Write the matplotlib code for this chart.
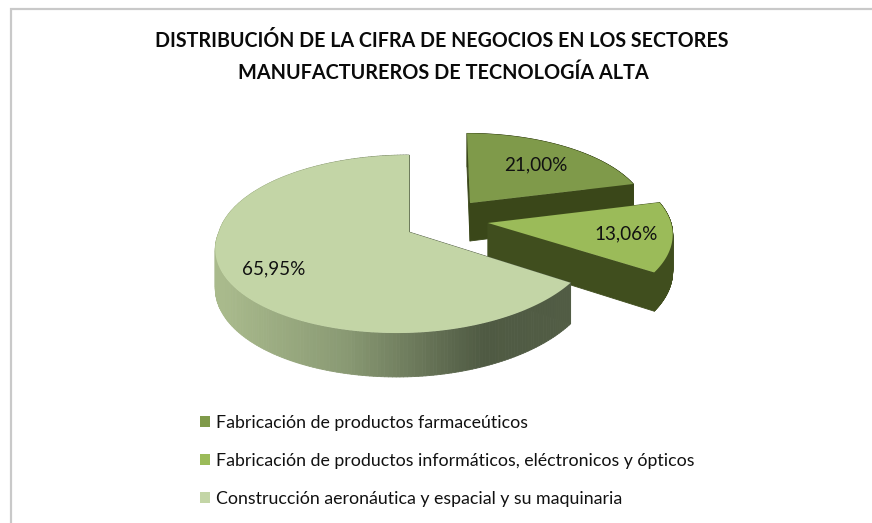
import numpy as np
import matplotlib
matplotlib.use("Agg")
import matplotlib.pyplot as plt
from matplotlib.collections import PolyCollection
from matplotlib.colors import LinearSegmentedColormap
from matplotlib.patches import Patch

title_lines = ["DISTRIBUCIÓN DE LA CIFRA DE NEGOCIOS EN LOS SECTORES",
               "MANUFACTUREROS DE TECNOLOGÍA ALTA"]
categories = ["Fabricación de productos farmaceúticos",
              "Fabricación de productos informáticos, eléctronicos y ópticos",
              "Construcción aeronáutica y espacial y su maquinaria"]
shares = [21.00, 13.06, 65.95]
share_labels = ["21,00%", "13,06%", "65,95%"]
top_colors = ["#7F9A4A", "#9BBB59", "#C3D5A6"]
side_colors = ["#3A4719", "#404E1E", None]

plt.rcParams["font.family"] = ["Lato", "DejaVu Sans"]
W, H = 872, 523
fig = plt.figure(figsize=(W / 100, H / 100), dpi=100)
ax = fig.add_axes([0, 0, 1, 1])
ax.set_xlim(0, W)
ax.set_ylim(H, 0)
ax.axis("off")

# frame of the chart area
ax.plot([10.5, 10.5, W], [H, 8.5, 8.5], color="#C9C9C9", lw=1.6, solid_joinstyle="miter")

K = 0.135  # perspective foreshortening


def project(t, geo):
    """t: clockwise angle from 12 o'clock; returns screen x, y of the rim."""
    u, v = np.sin(t), np.cos(t)
    d = 1 + K * v
    rx = np.where(u < 0, geo["rxl"], geo["rxr"])
    x = (geo["cx"] + rx * u / d + geo["lean"] * np.minimum(v, 0)
         + geo["lean_top"] * np.maximum(v, 0))
    y = geo["cy"] - geo["ry"] * v / d
    return x, y, geo["depth"] / d


geos = [
    dict(cx=470, cy=203, rxl=175, rxr=175, ry=79, lean=0, lean_top=-3, depth=38),
    dict(cx=488, cy=223, rxl=183, rxr=183, ry=85, lean=0, lean_top=0, depth=36),
    dict(cx=409, cy=232, rxl=190, rxr=185, ry=87.4, lean=12, lean_top=0, depth=38),
]

total = sum(shares)
edges = 2 * np.pi * np.concatenate([[0], np.cumsum(shares)]) / total
side_map = LinearSegmentedColormap.from_list(
    "side", [(0, "#A9BA8C"), (0.35, "#8A9A74"), (0.75, "#4F5A43"), (1, "#525D45")])

for i in range(3):
    geo = geos[i]
    ts = np.linspace(edges[i], edges[i + 1], 240)
    x, y, dep = project(ts, geo)
    # outline: apex, then the rim
    ox = np.r_[geo["cx"], x, geo["cx"]]
    oy = np.r_[geo["cy"], y, geo["cy"]]
    od = np.r_[geo["depth"], dep, geo["depth"]]
    quads = [[(ox[j], oy[j]), (ox[j + 1], oy[j + 1]),
              (ox[j + 1], oy[j + 1] + od[j + 1]), (ox[j], oy[j] + od[j])]
             for j in range(len(ox) - 1)]
    if side_colors[i] is None:
        mid = 0.5 * (ox[:-1] + ox[1:])
        cols = side_map(np.clip((mid - 222) / (570 - 222), 0, 1))
    else:
        cols = side_colors[i]
    ax.add_collection(PolyCollection(quads, facecolors=cols, edgecolors=cols,
                                     linewidths=0.6, zorder=2 + i))
    ax.fill(ox, oy, color=top_colors[i], lw=0, zorder=2 + i)

label_xy = [(536, 165), (626, 234), (274, 269)]
for lab, (lx, ly) in zip(share_labels, label_xy):
    ax.text(lx, ly, lab, ha="center", va="center", fontsize=13.6, color="#111111", zorder=10)

ax.text(442, 41, title_lines[0], ha="center", va="center", fontsize=14.1,
        fontweight="bold", color="#0A0A0A")
ax.text(443, 73, title_lines[1], ha="center", va="center", fontsize=14.3,
        fontweight="bold", color="#0A0A0A")

fs = 12.75
fs_px = fs * 100 / 72
handles = [Patch(facecolor=c, edgecolor="none") for c in top_colors]
ax.legend(handles, categories, loc="upper left", bbox_to_anchor=(200 / W, 1 - 415 / H),
          frameon=False, fontsize=fs, handlelength=10 / fs_px, handleheight=10 / fs_px,
          handletextpad=6 / fs_px, labelspacing=(38.9 - fs_px * 0.96) / fs_px,
          borderaxespad=0, borderpad=0, labelcolor="#111111")

fig.savefig("out.png", dpi=100, facecolor="white")
